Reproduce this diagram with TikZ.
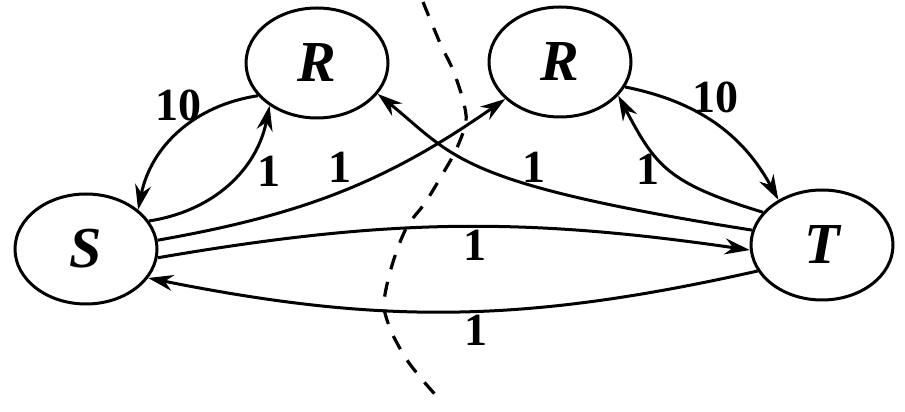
\documentclass[tikz,border=0pt]{standalone}
\usepackage{fontspec}
\setmainfont{Liberation Serif}
\usetikzlibrary{arrows.meta,shapes.geometric}
\begin{document}
\begin{tikzpicture}[x=1pt,y=1pt,
		vertex/.style={draw,ellipse,line width=3pt,minimum width=142pt,minimum height=110pt,inner sep=0pt,font=\fontsize{58}{60}\selectfont\bfseries\itshape},
		edge/.style={line width=3pt,-{Stealth[length=25pt,width=16pt]}},
		wt/.style={inner sep=2pt,font=\fontsize{46}{50}\selectfont\bfseries}]
			\useasboundingbox (0,0) rectangle (905,412);
			\node[vertex] (S) at (86,163) {S};
			\node[vertex] (R1) at (317,349) {R};
			\node[vertex] (R2) at (560,350) {R};
			\node[vertex] (T) at (822,167) {T};
			\draw[edge] (R1.209) to[bend right=35] node[wt,midway,above=8pt] {10} (S.37);
			\draw[edge] (S.24) to[bend right=35] node[wt,pos=0.6,right=14pt] {1} (R1.222);
			\draw[edge] (S.7) to[out=10,in=215] node[wt,pos=0.5,above=6pt] {1} (R2.214);
			\draw[edge] (T.168) .. controls +(171:300) and +(-39:100) .. node[wt,pos=0.35,above] {1} (R1.333);
			\draw[edge] (T.151) .. controls +(163:100) and +(-62:80) .. node[wt,midway,left=6pt] {1} (R2.-30);
			\draw[edge] (R2.-21) to[bend left=25] node[wt,midway,above=8pt] {10} (T.134);
			\draw[edge] (S.-7) to[bend left=9] node[wt,pos=0.54,below] {1} (T.184);
			\draw[edge] (T.202) to[bend left=12] node[wt,pos=0.46,below] {1} (S.-25);
			% the cut
			\draw[line width=3.2pt,dash pattern=on 15pt off 13pt] plot[smooth] coordinates {(423,410) (440,369) (453,342) (463,312) (466,290) (456,262) (442,237) (425,209) (408,187) (397,162) (388,132) (384,105) (392,79) (407,52) (425,29) (443,9)};
		\end{tikzpicture}
\end{document}
